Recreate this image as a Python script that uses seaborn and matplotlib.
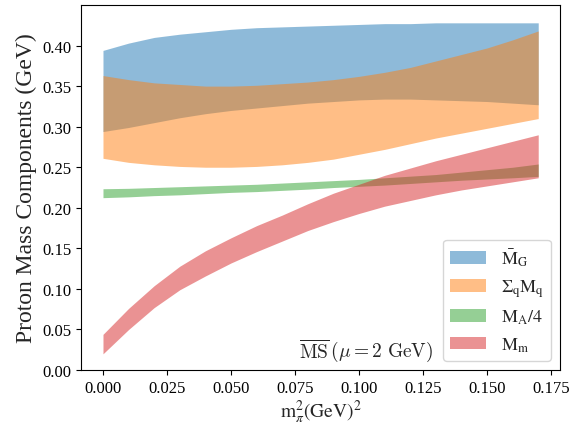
import numpy as np
import pandas as pd
import seaborn as sns
import matplotlib
matplotlib.use("Agg")
import matplotlib.pyplot as plt

# pion mass squared (GeV^2)
m_pi2 = [0.00, 0.01, 0.02, 0.03, 0.04, 0.05, 0.06, 0.07, 0.08,
         0.09, 0.10, 0.11, 0.12, 0.13, 0.14, 0.15, 0.16, 0.17]

# gluon component
mg_hi = [0.394, 0.403, 0.410, 0.414, 0.417, 0.420, 0.422, 0.423, 0.424,
         0.425, 0.426, 0.427, 0.427, 0.428, 0.428, 0.428, 0.428, 0.428]
mg_lo = [0.294, 0.299, 0.305, 0.311, 0.316, 0.320, 0.323, 0.326, 0.329,
         0.331, 0.333, 0.334, 0.334, 0.333, 0.332, 0.331, 0.329, 0.327]

# quark component
mq_hi = [0.363, 0.358, 0.354, 0.352, 0.350, 0.350, 0.351, 0.353, 0.355,
         0.358, 0.362, 0.367, 0.373, 0.381, 0.389, 0.397, 0.407, 0.418]
mq_lo = [0.261, 0.256, 0.253, 0.251, 0.250, 0.250, 0.251, 0.253, 0.256,
         0.260, 0.266, 0.272, 0.279, 0.286, 0.292, 0.298, 0.304, 0.310]

# anomaly component / 4
ma_hi = [0.2235, 0.224, 0.225, 0.226, 0.227, 0.228, 0.229, 0.2305, 0.232,
         0.2335, 0.235, 0.237, 0.239, 0.241, 0.244, 0.247, 0.250, 0.254]
ma_lo = [0.2125, 0.2135, 0.215, 0.216, 0.2175, 0.219, 0.220, 0.2215, 0.223,
         0.225, 0.2265, 0.228, 0.230, 0.232, 0.234, 0.2355, 0.237, 0.2387]

# quark mass component
mm_hi = [0.044, 0.076, 0.104, 0.128, 0.147, 0.163, 0.178, 0.191, 0.205,
         0.218, 0.229, 0.240, 0.249, 0.258, 0.266, 0.274, 0.282, 0.290]
mm_lo = [0.020, 0.050, 0.077, 0.099, 0.116, 0.132, 0.146, 0.159, 0.172,
         0.183, 0.193, 0.202, 0.209, 0.216, 0.222, 0.227, 0.232, 0.237]

labels = [r"$\bar{\mathrm{M}}_{\mathrm{G}}$",
          r"$\Sigma_{\mathrm{q}}\mathrm{M}_{\mathrm{q}}$",
          r"$\mathrm{M}_{\mathrm{A}}/4$",
          r"$\mathrm{M}_{\mathrm{m}}$"]

sns.set_style("ticks")
plt.rcParams["font.family"] = ["Liberation Serif", "DejaVu Serif"]
plt.rcParams["mathtext.fontset"] = "stix"
plt.rcParams["axes.edgecolor"] = "black"
plt.rcParams["xtick.color"] = "black"
plt.rcParams["ytick.color"] = "black"

colors = sns.color_palette("tab10")

fig, ax = plt.subplots(figsize=(5.72, 4.27), dpi=100)
fig.subplots_adjust(left=0.142, right=0.979, bottom=0.131, top=0.986)

bands = [(mg_lo, mg_hi), (mq_lo, mq_hi), (ma_lo, ma_hi), (mm_lo, mm_hi)]
for (lo, hi), lab, c in zip(bands, labels, colors[:4]):
    ax.fill_between(m_pi2, lo, hi, color=c, alpha=0.5, lw=0, label=lab)

ax.set_ylim(0, 0.45)
ax.set_yticks(np.arange(0, 0.401, 0.05))
ax.tick_params(labelsize=12)

ax.set_xlabel(r"$\mathrm{m}_{\pi}^{2}(\mathrm{GeV})^{2}$", fontsize=14, labelpad=1)
ax.set_ylabel("Proton Mass Components (GeV)", fontsize=17, labelpad=4)

ax.text(0.0765, 0.017, r"$\overline{\mathrm{MS}}\,(\mu=2\ \mathrm{GeV})$",
        fontsize=14, math_fontfamily="cm")

ax.legend(loc="lower right", fontsize=13)

fig.savefig("out.png", dpi=100)
